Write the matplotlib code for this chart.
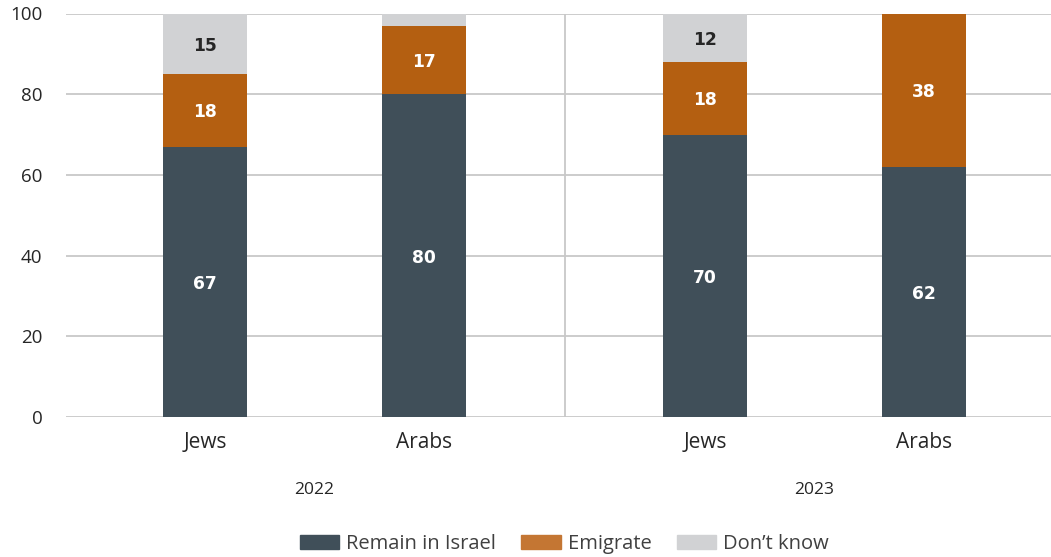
import matplotlib
matplotlib.use('Agg')
from matplotlib import pyplot as plt
from matplotlib.patches import Patch
import numpy as np

years = ['2022', '2023']
groups = ['Jews', 'Arabs', 'Jews', 'Arabs']
remain = [67, 80, 70, 62]
emigrate = [18, 17, 18, 38]
dont_know = [15, 3, 12, 0]
labels_dont_know = ['15', '', '12', '']

COL_REMAIN = '#404f59'
COL_EMIG = '#b45f11'
COL_EMIG_LEG = '#c47633'
COL_DK = '#d1d2d4'
GRID = '#c8c8c8'
TEXT = '#262626'

plt.rcParams['font.family'] = ['Open Sans', 'DejaVu Sans']
LABEL_FONT = ['DejaVu Sans']

fig = plt.figure(figsize=(10.51, 5.57), dpi=100)
ax = fig.add_axes([66 / 1051, 1 - 417 / 557, 985 / 1051, 403.5 / 557])

# bar centres: two per year, wider gap between years
x = np.array([0, 1, 2.283, 3.283])
w = 0.384

remain = np.array(remain)
emigrate = np.array(emigrate)
dont_know = np.array(dont_know)

ax.bar(x, remain, w, color=COL_REMAIN, zorder=3)
ax.bar(x, emigrate, w, bottom=remain, color=COL_EMIG, zorder=3)
ax.bar(x, dont_know, w, bottom=remain + emigrate, color=COL_DK, zorder=3)

lbl = dict(ha='center', va='center_baseline', fontsize=12.3, fontweight='bold',
           family=LABEL_FONT, zorder=4)
for xi, r, e, d, dl in zip(x, remain, emigrate, dont_know, labels_dont_know):
    ax.text(xi, r / 2, str(r), color='white', **lbl)
    ax.text(xi, r + e / 2, str(e), color='white', **lbl)
    if dl:
        ax.text(xi, r + e + d / 2, dl, color=TEXT, **lbl)

ax.set_xlim(-0.635, 3.863)
ax.set_ylim(0, 100)
ax.set_yticks(range(0, 101, 20))
ax.yaxis.grid(True, color=GRID, linewidth=1.3, zorder=0)
ax.set_axisbelow(True)
for s in ax.spines.values():
    s.set_visible(False)
ax.tick_params(axis='both', length=0, labelsize=13.5, labelcolor=TEXT)
ax.tick_params(axis='y', pad=17)
ax.set_xticks(x)
ax.set_xticklabels(groups, fontsize=15)
ax.tick_params(axis='x', pad=11)

# separator between years
sep = (x[1] + x[2]) / 2
ax.plot([sep, sep], [0, 100], color=GRID, linewidth=1.3, zorder=1)

for yr, cx in zip(years, [(x[0] + x[1]) / 2, (x[2] + x[3]) / 2]):
    ax.text(cx, -18, yr, ha='center', va='center', fontsize=12.5,
            color=TEXT, clip_on=False)

handles = [Patch(color=COL_REMAIN), Patch(color=COL_EMIG_LEG), Patch(color=COL_DK)]
leg = fig.legend(handles, ['Remain in Israel', 'Emigrate', 'Don\u2019t know'],
                 loc='center', bbox_to_anchor=(0.537, 1 - 544 / 557), ncol=3,
                 frameon=False, fontsize=14.5, handlelength=1.95, handleheight=0.75,
                 handletextpad=0.35, columnspacing=1.25)
for t in leg.get_texts():
    t.set_color('#404040')

fig.savefig('out.png', dpi=100)
